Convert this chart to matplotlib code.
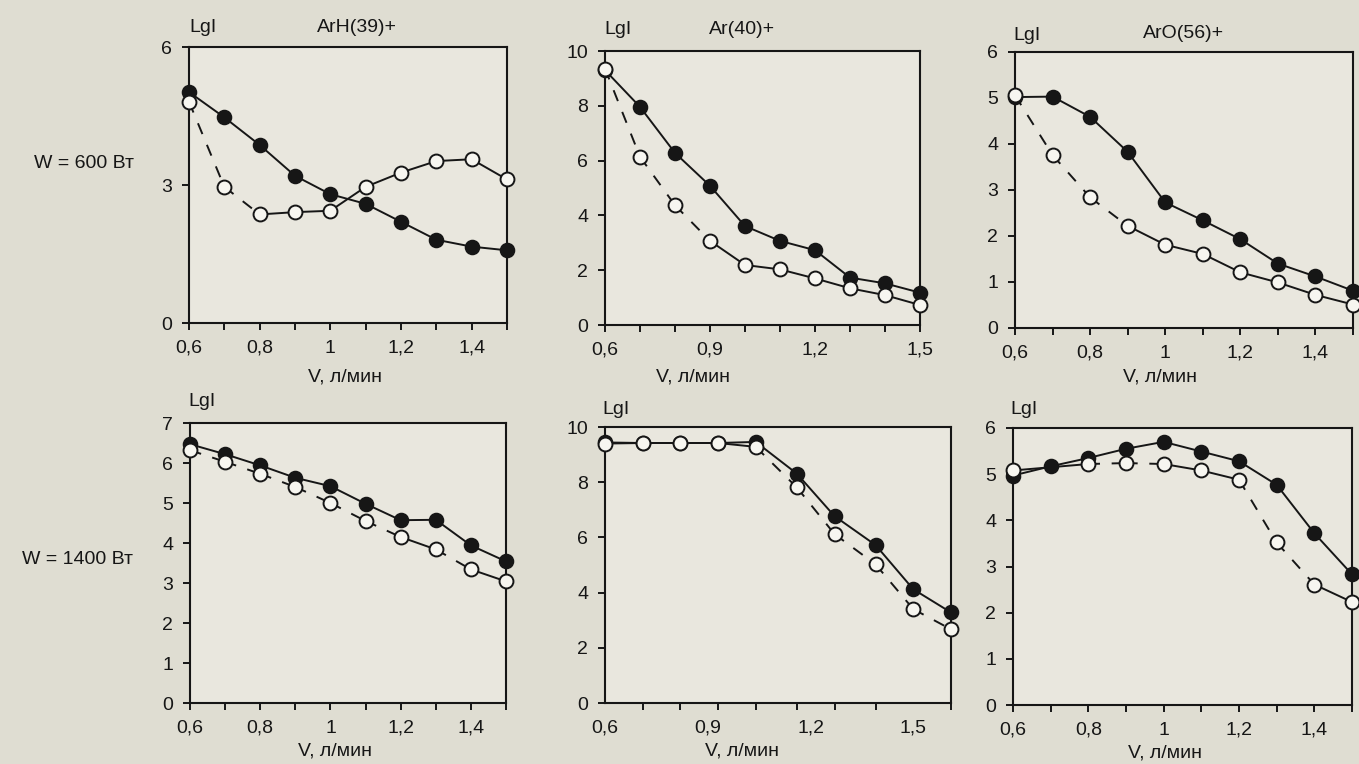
import matplotlib

matplotlib.use("Agg")
import matplotlib.pyplot as plt
import numpy as np

plt.rcParams["font.family"] = ["Liberation Sans", "DejaVu Sans"]

# ---- data ----
V = [0.6, 0.7, 0.8, 0.9, 1.0, 1.1, 1.2, 1.3, 1.4, 1.5]
V_AR1400 = [0.6, 0.71, 0.82, 0.93, 1.04, 1.16, 1.27, 1.39, 1.5, 1.61]

arh600_filled = [5.02, 4.47, 3.87, 3.20, 2.80, 2.59, 2.20, 1.81, 1.66, 1.58]
arh600_open = [4.81, 2.96, 2.36, 2.41, 2.44, 2.96, 3.27, 3.52, 3.56, 3.12]

ar600_filled = [9.30, 7.96, 6.28, 5.08, 3.61, 3.07, 2.73, 1.73, 1.52, 1.18]
ar600_open = [9.36, 6.14, 4.37, 3.07, 2.19, 2.03, 1.70, 1.34, 1.09, 0.73]

aro600_filled = [5.02, 5.03, 4.59, 3.83, 2.73, 2.34, 1.93, 1.40, 1.12, 0.81]
aro600_open = [5.06, 3.76, 2.84, 2.22, 1.81, 1.61, 1.21, 0.99, 0.72, 0.51]

arh1400_filled = [6.47, 6.22, 5.94, 5.63, 5.42, 4.98, 4.57, 4.58, 3.94, 3.54]
arh1400_open = [6.32, 6.03, 5.73, 5.40, 5.00, 4.55, 4.15, 3.84, 3.34, 3.04]

ar1400_filled = [9.44, 9.42, 9.42, 9.42, 9.46, 8.31, 6.77, 5.72, 4.12, 3.28]
ar1400_open = [9.40, 9.42, 9.42, 9.42, 9.28, 7.81, 6.12, 5.02, 3.40, 2.67]

aro1400_filled = [4.97, 5.17, 5.35, 5.55, 5.70, 5.49, 5.28, 4.77, 3.72, 2.83]
aro1400_open = [5.08, np.nan, 5.22, 5.24, 5.22, 5.08, 4.88, 3.52, 2.61, 2.23]

TITLES = ["ArH(39)+", "Ar(40)+", "ArO(56)+"]
ROW_LABELS = ["W = 600 Вт", "W = 1400 Вт"]
XLABEL = "V, л/мин"

# ---- layout in pixels of the original 1359x764 picture ----
W, H = 1359, 764
INK = "#161616"
BG = "#dfddd2"
AX_BG = "#e9e7de"
FS = 14


def fx(x):
    return x / W


def fy(y):
    return 1 - y / H


def make_ax(fig, l, t, r, b):
    ax = fig.add_axes([fx(l), fy(b), fx(r - l), (b - t) / H])
    ax.set_facecolor(AX_BG)
    for s in ax.spines.values():
        s.set_linewidth(1.5)
        s.set_color(INK)
    ax.tick_params(which="both", direction="out", length=5, width=1.4,
                   colors=INK, labelsize=FS, pad=7)
    return ax


def draw(ax, x, filled, opened, seg_style):
    ax.plot(x, filled, "-", color=INK, lw=1.4, zorder=2, clip_on=False)
    ax.plot(x, filled, "o", ms=10, mfc=INK, mec=INK, mew=1.2, zorder=3, clip_on=False)
    pts = [(a, b) for a, b in zip(x, opened) if not np.isnan(b)]
    for (x0, y0), (x1, y1), st in zip(pts[:-1], pts[1:], seg_style):
        ls = "-" if st == "s" else (0, (6, 6))
        ax.plot([x0, x1], [y0, y1], color=INK, lw=1.4, ls=ls, zorder=4, clip_on=False)
    ax.plot([p[0] for p in pts], [p[1] for p in pts], "o", ms=10,
            mfc="#f7f6f0", mec=INK, mew=1.4, zorder=5, clip_on=False)


fig = plt.figure(figsize=(W / 100, H / 100), dpi=100, facecolor=BG)

panels = [
    # box, x, filled, open, open-line style per segment, ymax, yticks, xticks, xlabels, minor ticks, xlabel pos
    ((189, 47, 507, 323), V, arh600_filled, arh600_open, "ddsssssss",
     6, [0, 3, 6], [0.6, 0.8, 1.0, 1.2, 1.4], ["0,6", "0,8", "1", "1,2", "1,4"], V, 345, 368),
    ((605, 51, 920, 325), V, ar600_filled, ar600_open, "dddssssss",
     10, [0, 2, 4, 6, 8, 10], [0.6, 0.9, 1.2, 1.5], ["0,6", "0,9", "1,2", "1,5"], V, 693, 368),
    ((1015, 52, 1353, 328), V, aro600_filled, aro600_open, "dddssssss",
     6, [0, 1, 2, 3, 4, 5, 6], [0.6, 0.8, 1.0, 1.2, 1.4], ["0,6", "0,8", "1", "1,2", "1,4"], V, 1160, 368),
    ((190, 423, 506, 703), V, arh1400_filled, arh1400_open, "ddddddsds",
     7, [0, 1, 2, 3, 4, 5, 6, 7], [0.6, 0.8, 1.0, 1.2, 1.4], ["0,6", "0,8", "1", "1,2", "1,4"], V, 335, 742),
    ((605, 427, 951, 703), V_AR1400, ar1400_filled, ar1400_open, "ssssddddd",
     10, [0, 2, 4, 6, 8, 10], [0.6, 0.9, 1.2, 1.5], ["0,6", "0,9", "1,2", "1,5"], V_AR1400, 742, 742),
    ((1013, 428, 1352, 705), V, aro1400_filled, aro1400_open, "sddssdds",
     6, [0, 1, 2, 3, 4, 5, 6], [0.6, 0.8, 1.0, 1.2, 1.4], ["0,6", "0,8", "1", "1,2", "1,4"], V, 1165, 744),
]

for box, x, fl, op, st, ymax, yt, xt, xl, minor, lx, ly in panels:
    ax = make_ax(fig, *box)
    draw(ax, x, fl, op, st)
    ax.set_xlim(x[0], x[-1])
    ax.set_ylim(0, ymax)
    ax.set_yticks(yt)
    ax.set_yticklabels([str(v) for v in yt])
    ax.set_xticks(minor, minor=True)
    ax.set_xticks(xt)
    ax.set_xticklabels(xl)
    if x is V_AR1400:
        ax.tick_params(axis="x", which="major", length=0, pad=12)
    for lab in ax.get_xticklabels() + ax.get_yticklabels():
        lab.set_color(INK)
    fig.text(fx(lx), fy(ly), XLABEL, ha="center", va="top", fontsize=FS, color=INK)

# "LgI" axis captions and ion titles
for px, py in [(203, 28), (618, 29), (1027, 35), (202, 402), (616, 409), (1024, 409)]:
    fig.text(fx(px), fy(py), "LgI", ha="center", va="center", fontsize=FS, color=INK)
for (px, py), t in zip([(357, 28), (742, 29), (1184, 33)], TITLES):
    fig.text(fx(px), fy(py), t, ha="center", va="center", fontsize=FS, color=INK)

fig.text(fx(84), fy(163), ROW_LABELS[0], ha="center", va="center", fontsize=FS, color=INK)
fig.text(fx(78), fy(559), ROW_LABELS[1], ha="center", va="center", fontsize=FS, color=INK)

fig.savefig("out.png", dpi=100, facecolor=BG)
